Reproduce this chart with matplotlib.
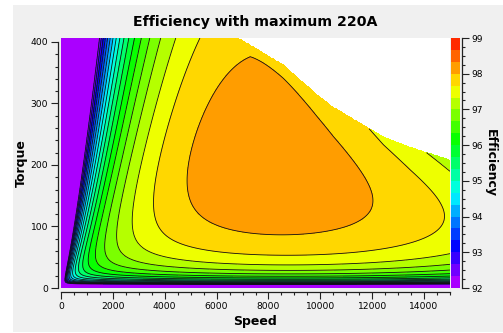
import numpy as np
import matplotlib
matplotlib.use("Agg")
import matplotlib.pyplot as plt
from matplotlib.colors import ListedColormap, BoundaryNorm, hsv_to_rgb
from matplotlib.ticker import MultipleLocator
from matplotlib.patches import Rectangle

# ---------------------------------------------------------------- data
# efficiency bands of the colour scale (%)
levels = np.linspace(92, 99, 22)

# maximum torque envelope (rpm, Nm)
env_speed = [0, 6000, 6850, 7295, 8569, 9225, 9882, 10500, 11540, 12430, 13470, 14510, 15000]
env_torque = [460, 460, 406, 395, 363, 338, 314, 294, 268, 246, 229, 215, 208]

# traced iso-efficiency points: speed (rpm) / torque (Nm) per efficiency level
iso_98_00_speed = [6700, 6909, 7100, 7295, 7500, 7797, 8569, 9882, 11155, 11657, 11812, 11541, 11155, 9225, 7295, 5365, 4980, 5172, 6137]
iso_98_00_torque = [362, 374, 382, 383, 379, 371, 341, 278, 203, 164, 127, 101, 94, 86, 94, 102, 143, 224, 306]
iso_97_67_speed = [5290, 4400, 4000, 3850, 4300, 6000, 9225, 11812, 13471, 14320, 14128, 12584, 11541]
iso_97_67_torque = [405, 300, 224, 143, 80, 60, 57, 62, 75, 115, 154, 224, 265]
iso_97_33_speed = [4478, 5365, 9225, 15000, 15000, 14510]
iso_97_33_torque = [405, 37, 37, 50, 203, 216]
iso_97_00_speed = [3821, 5365, 9225]
iso_97_00_torque = [405, 27, 30]
iso_96_67_speed = [3320, 9225]
iso_96_67_torque = [405, 21]
iso_96_00_speed = [2741]
iso_96_00_torque = [405]
iso_95_33_speed = [2200]
iso_95_33_torque = [405]
iso_92_33_speed = [1312, 5365, 9225]
iso_92_33_torque = [405, 8, 8]

iso_sets = [
    (98.00, 6.0, iso_98_00_speed, iso_98_00_torque),
    (97.67, 4.0, iso_97_67_speed, iso_97_67_torque),
    (97.33, 3.0, iso_97_33_speed, iso_97_33_torque),
    (97.00, 1.0, iso_97_00_speed, iso_97_00_torque),
    (96.67, 1.0, iso_96_67_speed, iso_96_67_torque),
    (96.00, 1.0, iso_96_00_speed, iso_96_00_torque),
    (95.33, 1.0, iso_95_33_speed, iso_95_33_torque),
    (92.33, 1.0, iso_92_33_speed, iso_92_33_torque),
]

FW_KNEE_RPM = 7300.0   # speed where field weakening starts to cost current


# ---------------------------------------------------------------- loss model
def loss_terms(n, T):
    n = np.asarray(n, float)
    T = np.asarray(T, float)
    x = n / 1000.0
    t = T / 100.0
    load = 1.0 - np.exp(-t)
    r = T / np.interp(n, env_speed, env_torque)
    fw = np.clip(n - FW_KNEE_RPM, 0, None) / 1000.0 * r**4
    return np.stack([t**2, t**2 * x, t**2 * x**2, x, x**2, x * load, x**2 * load,
                     x**3 * load, fw], axis=-1)


def shaft_power_kw(n, T):
    return np.asarray(T, float) * np.asarray(n, float) * np.pi / 30.0 / 1000.0


pts_n = np.concatenate([np.asarray(s, float) for _, _, s, _ in iso_sets])
pts_T = np.concatenate([np.asarray(t, float) for _, _, _, t in iso_sets])
pts_e = np.concatenate([np.full(len(s), e) for e, _, s, _ in iso_sets])
pts_w = np.concatenate([np.full(len(s), w) for _, w, s, _ in iso_sets])

rel_loss = 100.0 / pts_e - 1.0
A = loss_terms(pts_n, pts_T) / shaft_power_kw(pts_n, pts_T)[:, None]
scale = pts_w / rel_loss
coef, *_ = np.linalg.lstsq(A * scale[:, None], pts_w, rcond=None)

speed = np.linspace(0, 15000, 601)
torque = np.linspace(0, 406.5, 400)
NN, TT = np.meshgrid(speed, torque)
P = shaft_power_kw(NN, TT)
L = np.clip(loss_terms(NN, TT) @ coef, 1e-4, None)
with np.errstate(invalid="ignore", divide="ignore"):
    eff = np.where(P > 0, 100.0 * P / (P + L), 0.0)
eff = np.clip(eff, 92.0001, 98.999)
eff = np.ma.masked_where(TT > np.interp(NN, env_speed, env_torque), eff)

# ---------------------------------------------------------------- colours
n_bins = len(levels) - 1
hues = np.linspace(280, 10, n_bins) / 360.0
cmap = ListedColormap(hsv_to_rgb(np.stack([hues, np.ones(n_bins), np.ones(n_bins)], axis=1)))
norm = BoundaryNorm(levels, cmap.N)

# ---------------------------------------------------------------- figure
W, H = 503, 333
fig = plt.figure(figsize=(W / 100, H / 100), dpi=100, facecolor="white")
fig.patches.append(Rectangle((13 / W, 1 - 332 / H), 490 / W, 327 / H,
                             transform=fig.transFigure, facecolor="#f0f0f0",
                             edgecolor="none", zorder=-10))


def box(x0, y0, x1, y1):
    return [x0 / W, 1 - y1 / H, (x1 - x0) / W, (y1 - y0) / H]


ax = fig.add_axes(box(61, 38, 450, 288))
ax.set_facecolor("white")
cf = ax.contourf(NN, TT, eff, levels=levels, cmap=cmap, norm=norm)
ax.contour(NN, TT, eff, levels=levels[1:-1], colors="#111111", linewidths=0.6)
ax.set_xlim(0, 15000)
ax.set_ylim(0, 406.5)

for side in ("top", "right"):
    ax.spines[side].set_visible(False)
ax.spines["left"].set_position(("outward", 2.2))
ax.spines["bottom"].set_position(("outward", 2.9))
ax.spines["left"].set_bounds(0, 400)
ax.spines["bottom"].set_bounds(0, 15000)
for side in ("left", "bottom"):
    ax.spines[side].set_linewidth(0.9)
    ax.spines[side].set_color("#222222")

ax.xaxis.set_major_locator(MultipleLocator(2000))
ax.xaxis.set_minor_locator(MultipleLocator(500))
ax.yaxis.set_major_locator(MultipleLocator(100))
ax.yaxis.set_minor_locator(MultipleLocator(20))
ax.tick_params(which="major", direction="out", length=5, width=0.8, labelsize=6.6,
               pad=2, color="#222222")
ax.tick_params(which="minor", direction="out", length=2.5, width=0.8, color="#222222")

cax = fig.add_axes(box(451, 38, 460, 288))
cb = fig.colorbar(cf, cax=cax, ticks=np.arange(92, 100))
cb.outline.set_visible(False)
cax.spines["right"].set_visible(True)
cax.spines["right"].set_position(("outward", 1.4))
cax.spines["right"].set_bounds(92, 99)
cax.spines["right"].set_linewidth(0.9)
cax.spines["right"].set_color("#222222")
cax.yaxis.set_minor_locator(MultipleLocator(0.25))
cax.tick_params(which="major", direction="out", length=5, width=0.8, labelsize=6.6,
                pad=2, color="#222222")
cax.tick_params(which="minor", direction="out", length=2.5, width=0.8, color="#222222")

fig.text(255.5 / W, 1 - 26 / H, "Efficiency with maximum 220A", ha="center",
         va="baseline", fontsize=10.2, fontweight="bold")
fig.text(255.5 / W, 1 - 321 / H, "Speed", ha="center", va="center",
         fontsize=9, fontweight="bold")
fig.text(21 / W, 1 - 163 / H, "Torque", ha="center", va="center", rotation=90,
         fontsize=9, fontweight="bold")
fig.text(490 / W, 1 - 163 / H, "Efficiency", ha="center", va="center", rotation=270,
         fontsize=9, fontweight="bold")

fig.savefig("out.png", dpi=100, facecolor=fig.get_facecolor())
